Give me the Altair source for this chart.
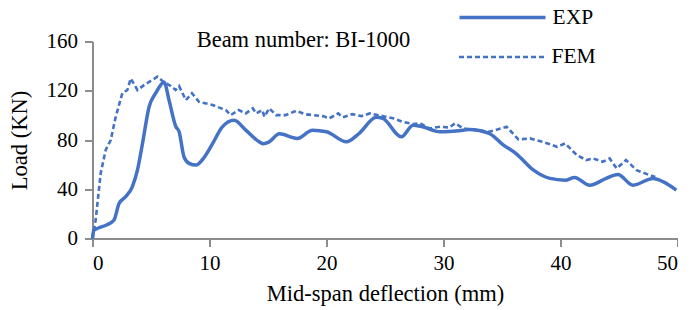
import altair as alt
import pandas as pd

# EXP curve (mm, kN)
exp_x = [0, 0.1, 0.5, 1.2, 1.84, 2.27, 2.84, 3.4, 3.84, 4.27, 4.84, 5.4, 6.12, 6.55, 7.12, 7.4,
         7.83, 8.26, 8.84, 9.55, 10.26, 11.1, 12.1, 13.1, 14.26, 14.6, 15.1, 15.97, 17.5, 18.8,
         20, 21.7, 22.8, 24.25, 24.8, 26.4, 27.4, 28.2, 29.7, 30.5, 31.7, 32.2, 33.9, 35.1,
         36.2, 37.7, 39.1, 40.4, 41.2, 42.5, 43.9, 44.9, 46.2, 47.9, 48.8, 49.9]
exp_y = [0, 6.5, 8.5, 11, 15, 28.5, 34, 42, 55.5, 77, 107, 118, 127, 112, 91, 86.7,
         66, 61, 59.6, 66, 77, 90.7, 96, 88, 78.5, 77, 78.5, 85, 81.3, 88,
         86.7, 78.5, 85.4, 98.4, 97.6, 82.6, 92, 90.7, 86.7, 87, 88, 88.6, 85.4, 76,
         69, 55.5, 48.8, 47.4, 49.6, 43.3, 48.8, 52, 43.3, 48.8, 46, 39.3]

# FEM curve (mm, kN)
fem_x = [0, 0.27, 0.7, 1.13, 1.56, 1.99, 2.55, 2.98, 3.27, 3.84, 4.4, 5.55, 6.1, 6.7, 7.1, 7.4,
         7.98, 8.5, 9.1, 10.26, 11.4, 11.8, 12.5, 13.1, 13.7, 14.0, 14.5, 14.7, 15.1, 15.7,
         16.5, 17.4, 18.25, 19.7, 20.25, 21.0, 21.4, 22.2, 23.0, 23.7, 24.8, 25.7, 26.5,
         27.4, 28.0, 28.8, 29.7, 30.5, 31.0, 31.7, 32.8, 33.9, 35.4, 36.4, 37.4, 38.5, 39.7,
         40.4, 41.4, 42.2, 42.8, 43.6, 44.2, 44.8, 45.6, 46.5, 47.4, 48.1]
fem_y = [0, 15, 53, 72, 80, 99, 118, 120.6, 130, 120.6, 124.6, 131.4, 127, 123.8, 120.6, 123.8,
         112.4, 118, 111, 108.4, 104.3, 100.2, 104.3, 101.6, 105.7, 101.6, 104.3, 98.9, 105.7, 100.2,
         100.2, 103.7, 100.8, 99.4, 97.6, 101.6, 98.4, 101, 99.4, 101.6, 99.4, 97.6, 94.8,
         92.9, 93.5, 89.4, 90.7, 90.2, 93.5, 89.4, 88, 86.7, 90.7, 80.5, 81.3, 78.5, 74.5,
         77.2, 67.7, 63.7, 65, 62.3, 65, 56.9, 63.7, 55.5, 52.3, 50]

x_ticks = [0, 10, 20, 30, 40, 50]
y_ticks = [0, 40, 80, 120, 160]
annotation = "Beam number: BI-1000"

df_exp = pd.DataFrame({"x": exp_x, "y": exp_y, "series": "EXP"})
df_fem = pd.DataFrame({"x": fem_x, "y": fem_y, "series": "FEM"})

FONT = "Liberation Serif"
BLUE = "#4472C4"
FEM_DASH = [5, 3]

x_enc = alt.X("x:Q", scale=alt.Scale(domain=[0, 50], nice=False),
              axis=alt.Axis(values=x_ticks, title="Mid-span deflection (mm)",
                            labelPadding=6, titlePadding=9))
y_enc = alt.Y("y:Q", scale=alt.Scale(domain=[0, 160], nice=False),
              axis=alt.Axis(values=y_ticks, title="Load (KN)", labelPadding=7, titlePadding=15))


def legend(y, dash):
    kw = dict(title=None, orient="none", legendX=365, legendY=y,
              symbolType="stroke", symbolSize=7396,
              symbolStrokeColor=BLUE, symbolStrokeWidth=3.5 if dash is None else 2.6,
              labelFont=FONT, labelFontSize=21.5, labelColor="black",
              labelOffset=5, padding=0)
    if dash is not None:
        kw["symbolDash"] = dash
    return alt.Legend(**kw)


line_exp = alt.Chart(df_exp).mark_line(
    interpolate="monotone", strokeWidth=3.5).encode(
    x=x_enc, y=y_enc,
    color=alt.Color("series:N", scale=alt.Scale(domain=["EXP"], range=[BLUE]),
                    legend=legend(-69, None)))

line_fem = alt.Chart(df_fem).mark_line(strokeWidth=2.6, strokeDash=FEM_DASH).encode(
    x=x_enc, y=y_enc,
    stroke=alt.Stroke("series:N", scale=alt.Scale(domain=["FEM"], range=[BLUE]),
                      legend=legend(-29, FEM_DASH)))

text = alt.Chart(pd.DataFrame({"t": [annotation]})).mark_text(
    font=FONT, fontSize=22.5, color="black", align="center", baseline="alphabetic").encode(
    text="t:N", x=alt.value(211), y=alt.value(5))

chart = alt.layer(line_exp, line_fem, text).resolve_scale(
    color="independent", stroke="independent"
).properties(
    width=585, height=197,
    autosize=alt.AutoSizeParams(type="none"),
    padding={"left": 84.5, "top": 33.5, "right": 0, "bottom": 75},
).configure_view(stroke=None).configure_axis(
    grid=False, domainColor="#8c8c8c", domainWidth=2, tickColor="#8c8c8c", tickWidth=2,
    tickSize=8, labelFont=FONT, labelFontSize=21, labelColor="black",
    titleFont=FONT, titleFontSize=22.5, titleColor="black", titleFontWeight="normal",
)

chart.save("out.html", embed_options={"renderer": "svg", "actions": False})
